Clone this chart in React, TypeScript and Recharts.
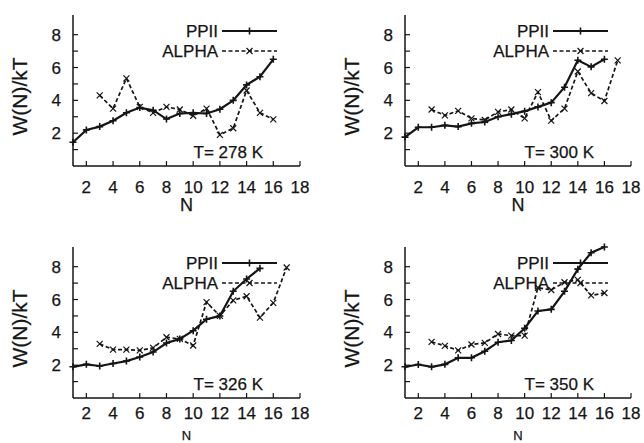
import React from 'react';
import { LineChart, Line, XAxis, YAxis } from 'recharts';

// N values for each series (PPII starts at 1, ALPHA at 3)
const nPPII = [1, 2, 3, 4, 5, 6, 7, 8, 9, 10, 11, 12, 13, 14, 15, 16];
const nAlpha = [3, 4, 5, 6, 7, 8, 9, 10, 11, 12, 13, 14, 15, 16, 17];

const ppii278 = [1.45, 2.2, 2.4, 2.76, 3.24, 3.56, 3.4, 2.86, 3.2, 3.24, 3.2, 3.46, 4.0, 4.94, 5.44, 6.5];
const alpha278 = [4.3, 3.5, 5.34, 3.6, 3.24, 3.6, 3.44, 3.06, 3.5, 1.9, 2.3, 4.6, 3.24, 2.84];

const ppii300 = [1.76, 2.36, 2.36, 2.48, 2.4, 2.6, 2.68, 3.0, 3.16, 3.34, 3.6, 3.86, 4.8, 6.44, 6.04, 6.5];
const alpha300 = [3.44, 3.08, 3.36, 2.9, 2.8, 3.3, 3.44, 2.9, 4.5, 2.76, 3.5, 5.76, 4.44, 3.96, 6.44];

const ppii326 = [1.9, 2.05, 1.95, 2.1, 2.25, 2.5, 2.8, 3.35, 3.6, 4.1, 4.8, 5.0, 6.5, 7.25, 7.9];
const alpha326 = [3.3, 2.95, 2.95, 2.9, 3.05, 3.7, 3.6, 3.2, 5.84, 5.0, 5.95, 6.2, 4.9, 5.8, 7.95];

const ppii350 = [1.9, 2.04, 1.9, 2.05, 2.45, 2.45, 2.85, 3.4, 3.5, 4.25, 5.3, 5.4, 6.5, 7.85, 8.85, 9.2];
const alpha350 = [3.42, 3.18, 2.9, 3.26, 3.36, 3.9, 3.8, 3.8, 6.72, 6.58, 7.05, 7.2, 6.25, 6.4];

const tempLabels = ['T= 278 K', 'T= 300 K', 'T= 326 K', 'T= 350 K'];
const xTicks = [2, 4, 6, 8, 10, 12, 14, 16, 18];
const yTicks = [1, 2, 3, 4, 5, 6, 7, 8];

const FONT = '"Liberation Sans", Arial, sans-serif';
const INK = '#151515';

const toRows = (ns: number[], vals: number[]) => vals.map((v, i) => ({ n: ns[i], w: v }));

const plusDot = (props: any) => {
  const { cx, cy, index } = props;
  if (cx == null || cy == null) return <g key={`p${index}`} />;
  return (
    <path key={`p${index}`} d={`M${cx - 3.5},${cy}H${cx + 3.5}M${cx},${cy - 3.5}V${cy + 3.5}`} stroke={INK} strokeWidth={1.6} />
  );
};

const crossDot = (props: any) => {
  const { cx, cy, index } = props;
  if (cx == null || cy == null) return <g key={`x${index}`} />;
  return (
    <path key={`x${index}`} d={`M${cx - 3},${cy - 3}L${cx + 3},${cy + 3}M${cx - 3},${cy + 3}L${cx + 3},${cy - 3}`} stroke={INK} strokeWidth={1.2} />
  );
};

// tm: x tick label gap, nY / nSize: position and size of the "N" title
const panels = [
  { x: 0, y: 0, h: 221, left: 73, right: 22, top: 15, bottom: 25, tm: 20, nY: 211, nSize: 18, ppii: ppii278, alpha: alpha278, t: tempLabels[0] },
  { x: 322, y: 0, h: 221, left: 83, right: 13, top: 15, bottom: 25, tm: 20, nY: 211, nSize: 18, ppii: ppii300, alpha: alpha300, t: tempLabels[1] },
  { x: 0, y: 221, h: 222, left: 73, right: 22, top: 26, bottom: 15, tm: 14, nY: 218.5, nSize: 13, ppii: ppii326, alpha: alpha326, t: tempLabels[2] },
  { x: 322, y: 221, h: 222, left: 83, right: 13, top: 26, bottom: 15, tm: 14, nY: 218.5, nSize: 13, ppii: ppii350, alpha: alpha350, t: tempLabels[3] },
];

const axisLine = { stroke: INK, strokeWidth: 1.5 };
const tickLine = { stroke: INK, strokeWidth: 1.2 };
const tickStyle = { fill: INK, fontSize: 17, fontFamily: FONT, stroke: INK, strokeWidth: 0.25 };
const blank = () => '';

function Panel({ p }: { p: (typeof panels)[number] }) {
  const W = 322;
  const plotL = p.left;
  const plotR = W - p.right;
  const plotT = p.top;
  const plotB = p.h - p.bottom - 30;
  const midY = (plotT + plotB) / 2 + 6;
  const yTitleX = plotL - 53 + 7;

  return (
    <div style={{ position: 'absolute', left: p.x, top: p.y, width: W, height: p.h }}>
      <LineChart width={W} height={p.h} margin={{ top: p.top, right: p.right, bottom: p.bottom, left: 0 }}>
        <XAxis
          xAxisId="b"
          type="number"
          dataKey="n"
          domain={[1, 18]}
          ticks={xTicks}
          height={30}
          tickSize={-5}
          tickMargin={p.tm}
          axisLine={axisLine}
          tickLine={tickLine}
          tick={tickStyle}
          interval={0}
        />
        <XAxis
          xAxisId="t"
          orientation="top"
          type="number"
          dataKey="n"
          domain={[1, 18]}
          ticks={xTicks}
          height={0}
          tickSize={-5}
          axisLine={axisLine}
          tickLine={tickLine}
          tickFormatter={blank}
          interval={0}
        />
        <YAxis
          yAxisId="l"
          type="number"
          domain={[0, 9.2]}
          ticks={yTicks}
          width={p.left}
          tickSize={-5}
          tickMargin={17}
          axisLine={axisLine}
          tickLine={tickLine}
          tick={tickStyle}
          tickFormatter={(v: number) => (v % 2 === 0 ? String(v) : '')}
          interval={0}
        />
        <YAxis
          yAxisId="r"
          orientation="right"
          type="number"
          domain={[0, 9.2]}
          ticks={yTicks}
          width={0}
          tickSize={-5}
          axisLine={axisLine}
          tickLine={tickLine}
          tickFormatter={blank}
          interval={0}
        />
        <Line
          xAxisId="b"
          yAxisId="l"
          data={toRows(nAlpha, p.alpha)}
          dataKey="w"
          stroke={INK}
          strokeWidth={1.7}
          strokeDasharray="4 2.5"
          dot={crossDot}
          isAnimationActive={false}
        />
        <Line
          xAxisId="b"
          yAxisId="l"
          data={toRows(nPPII, p.ppii)}
          dataKey="w"
          stroke={INK}
          strokeWidth={2.2}
          dot={plusDot}
          isAnimationActive={false}
        />
      </LineChart>
      <svg
        width={W}
        height={p.h}
        style={{ position: 'absolute', left: 0, top: 0, pointerEvents: 'none', fontFamily: FONT }}
      >
        <g fill={INK} stroke={INK} strokeWidth={0.25}>
          <text
            transform={`translate(${yTitleX},${midY}) rotate(-90)`}
            textAnchor="middle"
            fontSize={21}
          >
            W(N)/kT
          </text>
          <text x={(plotL + plotR) / 2} y={p.nY} textAnchor="middle" fontSize={p.nSize}>
            N
          </text>
          <text x={plotR - 82} y={plotT + 22} textAnchor="end" fontSize={17}>
            PPII
          </text>
          <text x={plotR - 82} y={plotT + 42} textAnchor="end" fontSize={17}>
            ALPHA
          </text>
          <text x={plotR - 37} y={plotB - 8.5} textAnchor="end" fontSize={17}>
            {p.t}
          </text>
        </g>
        <line x1={plotR - 78} x2={plotR - 23} y1={plotT + 16} y2={plotT + 16} stroke={INK} strokeWidth={2.2} />
        {plusDot({ cx: plotR - 50.5, cy: plotT + 16, index: 'lg' })}
        <line
          x1={plotR - 78}
          x2={plotR - 23}
          y1={plotT + 36}
          y2={plotT + 36}
          stroke={INK}
          strokeWidth={1.7}
          strokeDasharray="4 2.5"
        />
        {crossDot({ cx: plotR - 50.5, cy: plotT + 36, index: 'lg' })}
      </svg>
    </div>
  );
}

export default function App() {
  return (
    <div
      style={{
        position: 'absolute',
        left: 0,
        top: 0,
        width: 644,
        height: 443,
        background: '#fff',
        overflow: 'hidden',
        fontFamily: FONT,
      }}
    >
      {panels.map((p, i) => (
        <Panel key={i} p={p} />
      ))}
    </div>
  );
}
